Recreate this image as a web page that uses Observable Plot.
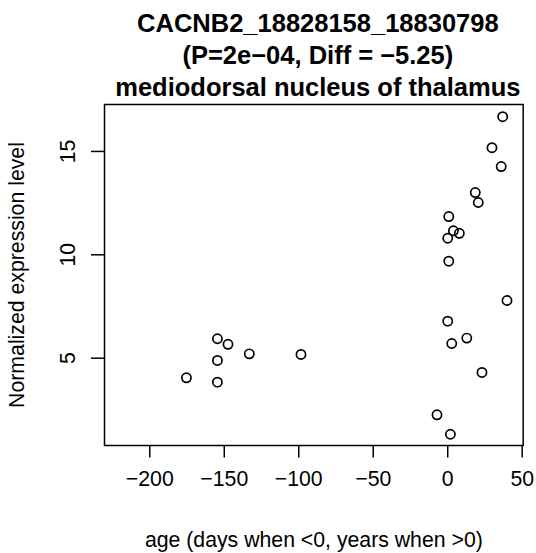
<!DOCTYPE html>
<html>
<head>
<meta charset="utf-8">
<script src="https://cdn.jsdelivr.net/npm/d3@7"></script>
<script src="https://cdn.jsdelivr.net/npm/@observablehq/plot@0.6"></script>
<style>
  html, body { margin: 0; padding: 0; background: #fff; }
  svg { display: block; }
</style>
</head>
<body>
<div id="chart"></div>
<script>
const titleLines = ["CACNB2_18828158_18830798", "(P=2e\u221204, Diff = \u22125.25)", "mediodorsal nucleus of thalamus"];
const xLabel = "age (days when <0, years when >0)";
const yLabel = "Normalized expression level";
const xTicks = [-200, -150, -100, -50, 0, 50];
const yTicks = [5, 10, 15];

const ages = [36.9, 29.7, 35.9, 18.5, 20.5, 0.7, 3.8, 7.8, 0.0, 0.7, 39.8, 0.0, 12.8, 2.7, 23.0, -7.2, 1.8,
              -154.6, -147.5, -154.6, -154.6, -175.4, -133.2, -98.5];
const expr = [16.68, 15.18, 14.27, 13.01, 12.53, 11.85, 11.16, 11.04, 10.80, 9.69, 7.79, 6.79, 5.97, 5.71, 4.31, 2.26, 1.32,
              5.94, 5.67, 4.89, 3.84, 4.05, 5.21, 5.18];

const points = ages.map((a, i) => ({age: a, value: expr[i]}));
const fmt = d => d < 0 ? "\u2212" + Math.abs(d) : String(d);
const font = "Liberation Sans, Arial, Helvetica, sans-serif";

const chart = Plot.plot({
  width: 536,
  height: 553,
  marginLeft: 104,
  marginRight: 13.3,
  marginTop: 104,
  marginBottom: 108,
  style: {fontFamily: font, background: "white", color: "black"},
  x: {domain: [-230.4, 50.67]},
  y: {domain: [0.776, 17.27]},
  marks: [
    Plot.axisX({ticks: xTicks, tickSize: 12.6, tickPadding: 12.4, tickFormat: fmt, fontSize: 21.25, label: null, strokeWidth: 1.5}),
    Plot.axisY({ticks: yTicks, tickSize: 13, tickFormat: () => "", label: null, strokeWidth: 1.5}),
    Plot.text(yTicks, {y: d => d, text: fmt, frameAnchor: "left", dx: -30, rotate: -90, textAnchor: "middle", lineAnchor: "bottom", fontSize: 21.25}),
    Plot.frame({stroke: "black", strokeWidth: 1.5}),
    Plot.dot(points, {x: "age", y: "value", r: 4.6, stroke: "black", strokeWidth: 1.7, fill: "none"}),
    Plot.text([titleLines[0]], {text: d => d, frameAnchor: "top", dx: 4, dy: -72.3, lineAnchor: "bottom", fontSize: 25.5, fontWeight: "bold"}),
    Plot.text([titleLines[1]], {text: d => d, frameAnchor: "top", dx: 4, dy: -40.7, lineAnchor: "bottom", fontSize: 25.5, fontWeight: "bold"}),
    Plot.text([titleLines[2]], {text: d => d, frameAnchor: "top", dx: 4, dy: -9, lineAnchor: "bottom", fontSize: 25.5, fontWeight: "bold"}),
    Plot.text([xLabel], {text: d => d, frameAnchor: "bottom", dy: 101.7, lineAnchor: "bottom", fontSize: 21.25}),
    Plot.text([yLabel], {text: d => d, frameAnchor: "left", dx: -81, rotate: -90, textAnchor: "middle", lineAnchor: "bottom", fontSize: 21.25})
  ]
});
document.getElementById("chart").appendChild(chart);
</script>
</body>
</html>
